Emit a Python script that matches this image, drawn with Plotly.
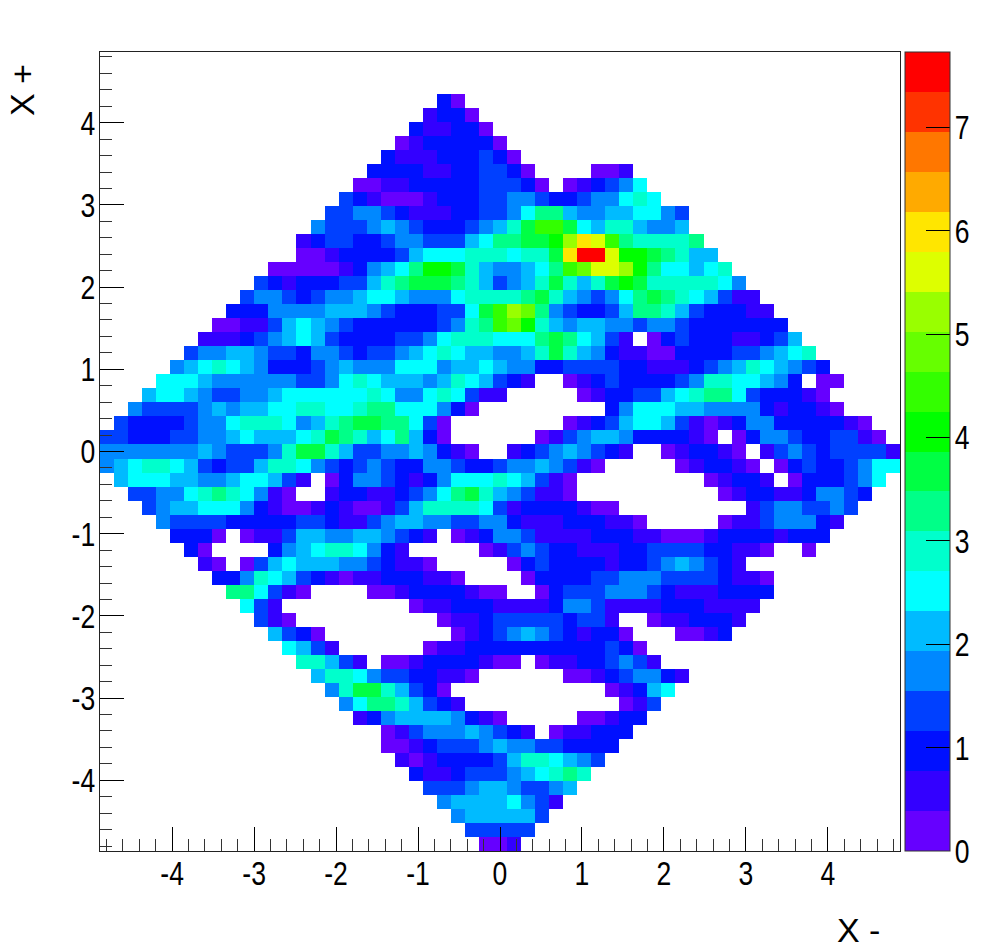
import plotly.graph_objects as go

# Histogram contents: one letter per bin = colour band index (base 20), '.' = empty bin
FIRST_BIN = [None, None, None, 24, 23, 22, 21, 20, 19, 18, 17, 16, 15, 14, 14, 12, 11, 10, 9, 8, 7, 6, 5, 4, 3, 2, 1, 0, 0, 0,
             1, 2, 3, 4, 5, 6, 7, 8, 9, 10, 11, 12, 13, 14, 15, 16, 17, 18, 20, 20, 21, 22, 23, 24, 25, 26, 27]
BANDS = [
 "", "", "",
 "20",
 "1220",
 "211220",
 "01222220",
 "2111222320",
 "222211223320....001",
 "00112222233320.012346",
 "321000122233443223446 76".replace(" ", ""),
 "3344321112233468854455664 3".replace(" ", ""),
 "43334543222345 79bb96577 5445".replace(" ", ""),
 "123322344333 568899adfeb877778".replace(" ", ""),
 "00122223566677767 79fjjeaa98755".replace(" ", ""),
 "0000012456 8aa9754456 8bceeda866567".replace(" ", ""),
 "3212223357 89998753457975 79a97777764".replace(" ", ""),
 "3443234456654446777789754346898765 3 11".replace(" ", ""),
 "222444455543 222336 9bdc843223588753 22211".replace(" ", ""),
 "0011356543222222 3478bca7545544 3443 2222222".replace(" ", ""),
 "11123456532222 33 46777666 8986531.023222 11235".replace(" ", ""),
 "34455433 244323345 67655 44579754211 00222233 4567".replace(" ", ""),
 "456765422234 5444 666 4556 54422 3333 22111 2345 76 5432".replace(" ", ""),
 "66654444443346 76555 4576 5321..0123222234 77665 42.00".replace(" ", ""),
 "566 5433445666666 76446 76311.....0122335 678863 22210".replace(" ", ""),
 "4333345455667766 7 88666 420.........246665544442 12210".replace(" ", ""),
 "3222234467776457 8998863 0........01235665 3101 24422222 10".replace(" ", ""),
 "332223344565556 7987568520......0134554222 210.0244322 3310".replace(" ", ""),
 "4444444543334 7997533 445421 0..12345432 1..01221 0.134323333 1".replace(" ", ""),
 "456 77653 233 577643 2343224432 23 445431 0.....012210.023223466".replace(" ", ""),
 "5666554456 6531.02443212466 67653 10.........01221.02223 46".replace(" ", ""),
 "33446 78764 10..12211234 68975431 10..........01221124432".replace(" ", ""),
 "345566 6 4210012 1001357777 63122221 00.........134433 43".replace(" ", ""),
 "433332222233 211345 5443344 2111222110.....01134442 1".replace(" ", ""),
 "2220.011355445543 21.01244 31111222110001222212 22".replace(" ", ""),
 "20....24567764 21.....0134322 11122333322 110..0".replace(" ", ""),
 "10.03565554 43211 0.....023222212234543 21".replace(" ", ""),
 "2247653 2101122 2110....022223344433332 110".replace(" ", ""),
 "88 63 10....001222 2100..023334443 2111 2222".replace(" ", ""),
 "631.........011222 1111 2443 1111222 1111".replace(" ", ""),
 "310..........01123333 3233 1..011 2221".replace(" ", ""),
 "5320.........012345 432122 0...0012".replace(" ", ""),
 "6531......011222222222 2320".replace(" ", ""),
 "77531.001222210 0.0112 23431".replace(" ", ""),
 "5776433 22110......0012344 21".replace(" ", ""),
 "4799753 20...........01256".replace(" ", ""),
 "46887532 1...........013".replace(" ", ""),
 "12455554210.....00122".replace(" ", ""),
 "0134445432 1.011222".replace(" ", ""),
 "0012333 4544332222".replace(" ", ""),
 "1012222 3577 6543".replace(" ", ""),
 "2112333 456787".replace(" ", ""),
 "3334554 3345".replace(" ", ""),
 "4555564 31".replace(" ", ""),
 "4555553",
 "33333",
 "001",
]
BAND_COLORS = ["#6600FF", "#3300FF", "#0010FF", "#0040FF", "#0088FF", "#00BBFF", "#00FFFF", "#00FFCC",
               "#00FF88", "#00FF44", "#00FF00", "#33FF00", "#66FF00", "#99FF00", "#DDFF00", "#FFE600",
               "#FFAA00", "#FF7700", "#FF3300", "#FF0000"]
TICKS = [-4, -3, -2, -1, 0, 1, 2, 3, 4]
TICK_TEXT = ["-4", "-3", "-2", "-1", "0", "1", "2", "3", "4"]
Z_TICKS = [0, 1, 2, 3, 4, 5, 6, 7]
Z_MAX = 7.73
N_BINS = 57
X_LIM = 4.88
Y_LIM = 4.86
FONT = "Liberation Sans, Arial"

digits = "0123456789abcdefghij"
band_w = Z_MAX / 20
z = []
for first, row in zip(FIRST_BIN, BANDS):
    cells = [None] * N_BINS
    if first is not None:
        for i, ch in enumerate(row):
            if ch != "." and first + i < N_BINS:
                cells[first + i] = (digits.index(ch) + 0.5) * band_w
    z.append(cells)

scale = []
for i, col in enumerate(BAND_COLORS):
    scale += [[i / 20, col], [(i + 1) / 20, col]]

dx = 2 * X_LIM / N_BINS
dy = 2 * Y_LIM / N_BINS
fig = go.Figure(go.Heatmap(
    z=z, x0=-X_LIM + dx / 2, dx=dx, y0=Y_LIM - dy / 2, dy=-dy,
    zmin=0, zmax=Z_MAX, colorscale=scale, hoverongaps=False, xgap=0, ygap=0,
    colorbar=dict(
        x=1.00625, xanchor="left", xpad=0, y=0, yanchor="bottom", ypad=0, len=1, lenmode="fraction",
        thickness=45, thicknessmode="pixels", outlinecolor="#333", outlinewidth=1,
        tickvals=Z_TICKS, ticktext=[str(t) for t in Z_TICKS], ticks="inside", ticklen=24, tickwidth=1,
        tickcolor="black", tickfont=dict(family=FONT, size=34, color="black"),
    ),
))
axis = dict(
    tickvals=TICKS, ticktext=TICK_TEXT, ticks="inside", ticklen=24, tickwidth=1, tickcolor="black",
    minor=dict(dtick=0.2, ticks="inside", ticklen=12, tickwidth=1, tickcolor="#333"),
    showgrid=False, zeroline=False, showline=True, linecolor="#222", linewidth=1, mirror=True,
    tickfont=dict(family=FONT, size=34, color="black"),
)
fig.update_xaxes(range=[-X_LIM, X_LIM], ticklabelstandoff=-8, **axis)
fig.update_yaxes(range=[-Y_LIM, Y_LIM], ticklabelstandoff=-3, **axis)
w, h = 800, 799
fig.update_layout(
    width=1000, height=950, margin=dict(l=100, r=100, t=52, b=99, autoexpand=False),
    paper_bgcolor="white", plot_bgcolor="white",
    annotations=[
        dict(text="X -", x=(882 - 100) / w, y=(851 - 930) / h, xref="paper", yref="paper", showarrow=False,
             xanchor="right", yanchor="middle", font=dict(family=FONT, size=34, color="black")),
        dict(text="X +", x=(22 - 100) / w, y=(851 - 90) / h, xref="paper", yref="paper", showarrow=False,
             textangle=-90, xanchor="center", yanchor="middle", font=dict(family=FONT, size=34, color="black")),
    ],
)
# The reference's tick digits are condensed: squeeze the real text horizontally.
POST = """
document.body.style.margin='0';
document.querySelectorAll('.xtick text, .ytick text, .colorbar text').forEach(function(t){
  t.setAttribute('lengthAdjust','spacingAndGlyphs');
  t.setAttribute('textLength', t.getComputedTextLength()*0.78);
});
document.querySelectorAll('.colorbar text').forEach(function(t){
  var x=parseFloat(t.getAttribute('x')||'0'); t.setAttribute('x', x-3);
});
"""
fig.write_html("out.html", post_script=POST, config=dict(displayModeBar=False))
